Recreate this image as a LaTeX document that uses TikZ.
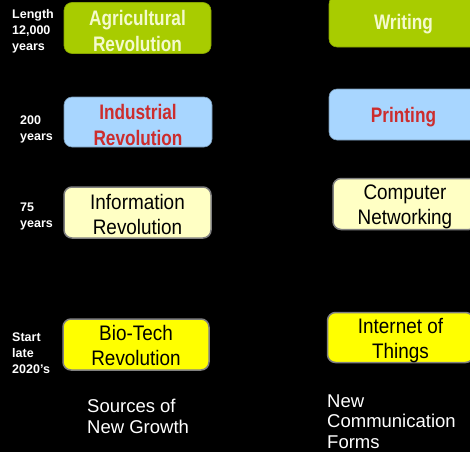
\documentclass[tikz,border=0pt]{standalone}
\usepackage{fontspec}
\setmainfont{Liberation Sans}
\newfontfamily\narrowfont[FakeStretch=0.82]{Liberation Sans}
\newfontfamily\narrowregfont[FakeStretch=0.9]{Liberation Sans}
\definecolor{agri}{RGB}{168,204,0}
\definecolor{agritext}{RGB}{244,250,205}
\definecolor{indfill}{RGB}{168,214,255}
\definecolor{indtext}{RGB}{204,45,45}
\definecolor{infofill}{RGB}{255,255,196}
\definecolor{biofill}{RGB}{255,255,0}
\definecolor{edgegray}{RGB}{128,128,128}
\tikzset{
  box/.style={rounded corners=8pt, inner sep=0pt, line width=1.5pt},
  greenbox/.style={box, fill=agri, draw=agri!80!black, line width=0.6pt},
  bluebox/.style={box, fill=indfill, draw=indfill!70!black, line width=0.6pt},
  infobox/.style={box, fill=infofill, draw=edgegray},
  biobox/.style={box, fill=biofill, draw=edgegray},
  boldtext/.style={inner sep=0pt, align=center, font=\narrowfont\bfseries\fontsize{21}{26}\selectfont},
  greentext/.style={boldtext, text=agritext},
  bluetext/.style={boldtext, text=indtext},
  plaintext/.style={inner sep=0pt, align=center, text=black, font=\narrowregfont\fontsize{21}{25.5}\selectfont},
  sidelabel/.style={anchor=west, inner sep=0pt, align=left, text=white, font=\bfseries\fontsize{12.5}{16}\selectfont},
  footlabel/.style={anchor=west, inner sep=0pt, align=left, text=white, font=\fontsize{18.5}{20.5}\selectfont}
}
\begin{document}
\begin{tikzpicture}[x=1pt,y=-1pt]
\fill[black] (0,0) rectangle (470,452);
\useasboundingbox (0,0) rectangle (470,452);
\clip (0,0) rectangle (470,452);
% left column
\node[greenbox, minimum width=147pt, minimum height=51pt] (agri) at (137.5,28) {};
\node[greentext] (agrit) at ([yshift=-2.5pt]agri.center) {Agricultural\\Revolution};
\node[bluebox, minimum width=148pt, minimum height=50pt] (ind) at (138,122) {};
\node[bluetext] (indt) at ([yshift=-3pt]ind.center) {Industrial\\Revolution};
\node[infobox, minimum width=147pt, minimum height=51pt] (info) at (137.5,212.5) {};
\node[plaintext] (infot) at ([yshift=-2pt]info.center) {Information\\Revolution};
\node[biobox, minimum width=146pt, minimum height=51pt] (bio) at (136,344.5) {};
\node[plaintext] (biot) at ([yshift=-1pt]bio.center) {Bio-Tech\\Revolution};
% right column
\node[greenbox, minimum width=149pt, minimum height=51pt] (writing) at (403.5,21.5) {};
\node[greentext, text depth=0pt] (writingt) at (writing.center) {Writing};
\node[bluebox, minimum width=149pt, minimum height=51pt] (printing) at (403.5,114.5) {};
\node[bluetext, text depth=0pt] (printingt) at (printing.center) {Printing};
\node[infobox, minimum width=144pt, minimum height=51pt] (network) at (405,204) {};
\node[plaintext] (networkt) at ([yshift=-3pt]network.center) {Computer\\Networking};
\node[biobox, minimum width=146pt, minimum height=50pt] (iot) at (400.5,337.5) {};
\node[plaintext] (iott) at ([yshift=-3pt]iot.center) {Internet of\\Things};
% side labels
\node[sidelabel] (len) at (12,31) {Length\\12,000\\years};
\node[sidelabel] (l200) at (20,129) {200\\years};
\node[sidelabel] (l75) at (20,216) {75\\years};
\node[sidelabel] (start) at (12,353) {Start\\late\\2020’s};
% footers
\node[footlabel] (src) at (87,416.5) {Sources of\\New Growth};
\node[footlabel] (comm) at (327,421.5) {New\\Communication\\Forms};
\end{tikzpicture}
\end{document}
